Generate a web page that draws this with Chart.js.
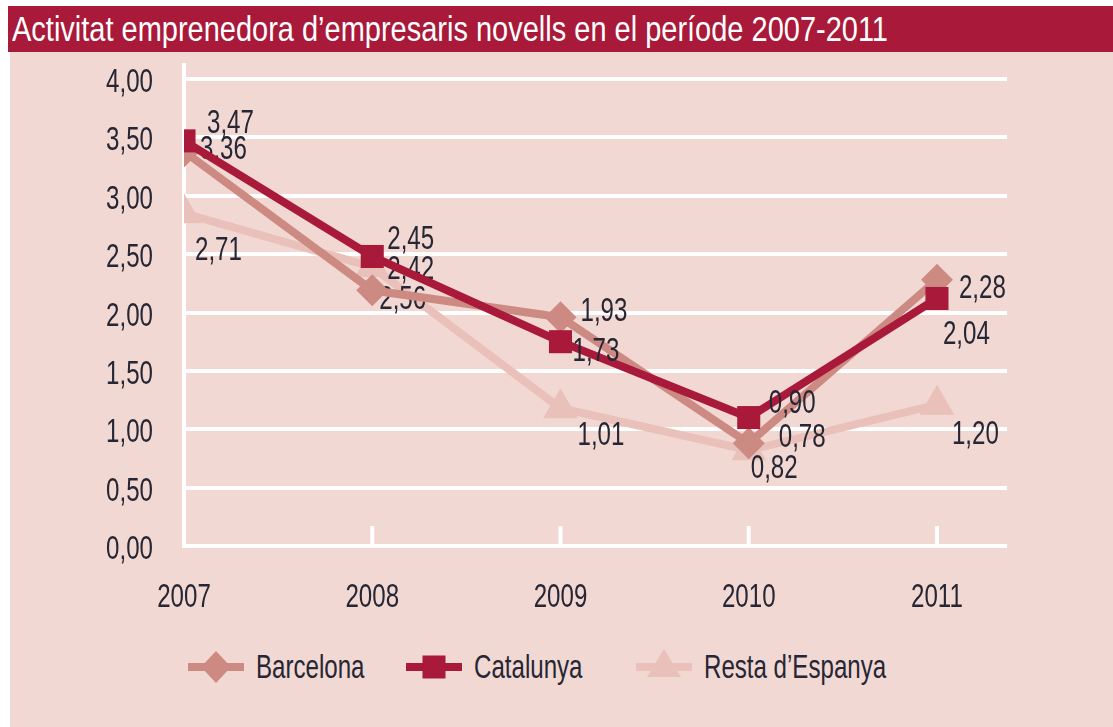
<!DOCTYPE html>
<html>
<head>
<meta charset="utf-8">
<script src="https://cdn.jsdelivr.net/npm/chart.js@4.4.1/dist/chart.umd.min.js"></script>
<style>
    html, body { margin: 0; padding: 0; background: #ffffff; }
    body { width: 1113px; height: 727px; position: relative; overflow: hidden;
           font-family: 'Liberation Sans', Arial, sans-serif; }
    #titulo { position: absolute; left: 8px; top: 6px; width: 1105px; height: 46px;
              background: #A8193A; overflow: hidden; }
    #tituloTexto { position: absolute; left: 4px; top: 0; line-height: 46px; color: #ffffff;
                   font-size: 35px; white-space: nowrap; transform-origin: 0 50%; }
    #fondo { position: absolute; left: 10px; top: 52px; width: 1103px; height: 675px; background: #F2D8D2; }
    #contenedor { position: absolute; left: 10px; top: 52px; width: 1103px; height: 590px; }
    .leyenda { position: absolute; top: 650px; height: 34px; display: flex; align-items: center;
               font-size: 33px; color: #262634; white-space: nowrap; }
    .leyenda canvas { margin-right: 10px; }
    .leyenda span { display: inline-block; transform: scaleX(0.73); transform-origin: 0 50%; }
</style>
</head>
<body>
<div id="titulo"><span id="tituloTexto">Activitat emprenedora d’empresaris novells en el període 2007-2011</span></div>
<div id="fondo"></div>
<div id="contenedor"><canvas id="graficoActividad"></canvas></div>
<div class="leyenda" style="left:186px"><canvas id="leyBarcelona" width="60" height="36"></canvas><span>Barcelona</span></div>
<div class="leyenda" style="left:404px"><canvas id="leyCatalunya" width="60" height="36"></canvas><span>Catalunya</span></div>
<div class="leyenda" style="left:634px"><canvas id="leyResta" width="60" height="36"></canvas><span>Resta d’Espanya</span></div>

<script>
// ===================================== Datos ==================
var anios = [2007, 2008, 2009, 2010, 2011];

var barcelona = [3.38, 2.19, 1.96, 0.88, 2.28];
var catalunya = [3.47, 2.48, 1.75, 1.10, 2.12];
var resta     = [2.85, 2.39, 1.18, 0.82, 1.21];

// textos de las etiquetas tal como aparecen en el gráfico
var etiquetasBarcelona = ['3,36', '2,42', '1,93', '0,78', '2,28'];
var etiquetasCatalunya = ['3,47', '2,45', '1,73', '0,90', '2,04'];
var etiquetasResta     = ['2,71', '2,56', '1,01', '0,82', '1,20'];

var yMin = 0, yMax = 4, yPaso = 0.5;


// ===================================== Estilos ==================
var colorBarcelona = '#CD8A83';
var colorCatalunya = '#A8193A';
var colorResta = '#E9C0BA';
var colorTexto = '#262634';
var fuente = "'Liberation Sans', Arial, sans-serif";
var tamFuente = 33;
var estrecho = 0.73;   // la fuente original es condensada

// desplazamiento de cada etiqueta respecto a su punto [dx, dy]
var despBarcelona = [[16, -1], [15, -20], [20, -5], [30, -5], [22, 9]];
var despCatalunya = [[23, -17], [15, -17], [12, 10], [20, -14], [6, 36]];
var despResta     = [[11, 38], [7, 33], [17, 28], [2, 19], [15, 30]];


function aPuntos(valores) {
    return anios.map((a, i) => ({ x: a, y: valores[i] }));
}

function formatoComa(v) {
    return v.toFixed(2).replace('.', ',');
}

function textoEstrecho(ctx, texto, x, y, align) {
    ctx.save();
    ctx.translate(x, y);
    ctx.scale(estrecho, 1);
    ctx.textAlign = align;
    ctx.textBaseline = 'middle';
    ctx.fillText(texto, 0, 0);
    ctx.restore();
}


// ===================================== Título ajustado ==================
(function () {
    var t = document.getElementById('tituloTexto');
    var w = t.getBoundingClientRect().width;
    t.style.transform = 'scaleX(' + (876 / w) + ')';
})();


// ===================================== Marcadores de la leyenda ==================
function dibujarForma(ctx, forma, x, y, color) {
    ctx.fillStyle = color;
    ctx.beginPath();
    if (forma === 'rombo') {
        ctx.moveTo(x, y - 16); ctx.lineTo(x + 15, y); ctx.lineTo(x, y + 16); ctx.lineTo(x - 15, y);
    } else if (forma === 'cuadrado') {
        ctx.rect(x - 11.5, y - 11.5, 23, 23);
    } else {
        ctx.moveTo(x, y - 18); ctx.lineTo(x + 17, y + 10); ctx.lineTo(x - 17, y + 10);
    }
    ctx.closePath();
    ctx.fill();
}

function dibujarLeyenda(id, forma, color) {
    var c = document.getElementById(id);
    var ctx = c.getContext('2d');
    ctx.fillStyle = color;
    ctx.fillRect(2, 14, 56, 8);
    dibujarForma(ctx, forma, 30, 18, color);
}

dibujarLeyenda('leyBarcelona', 'rombo', colorBarcelona);
dibujarLeyenda('leyCatalunya', 'cuadrado', colorCatalunya);
dibujarLeyenda('leyResta', 'triangulo', colorResta);


// ===================================== Plugin: eje y, marcas y textos de los ejes ==================
var pluginEjes = {
    id: 'ejes',
    beforeDatasetsDraw(chart) {
        const { ctx, chartArea, scales } = chart;
        ctx.save();
        ctx.strokeStyle = '#ffffff';
        ctx.lineWidth = 4;
        ctx.beginPath();
        ctx.moveTo(chartArea.left, chartArea.top - 16);
        ctx.lineTo(chartArea.left, chartArea.bottom + 2);
        anios.slice(1).forEach(a => {
            const x = scales.x.getPixelForValue(a);
            ctx.moveTo(x, chartArea.bottom);
            ctx.lineTo(x, chartArea.bottom - 20);
        });
        ctx.stroke();

        ctx.font = tamFuente + 'px ' + fuente;
        ctx.fillStyle = colorTexto;
        scales.y.ticks.forEach(t => {
            textoEstrecho(ctx, formatoComa(t.value), chartArea.left - 31, scales.y.getPixelForValue(t.value) + 4, 'right');
        });
        scales.x.ticks.forEach(t => {
            textoEstrecho(ctx, String(t.value), scales.x.getPixelForValue(t.value), chartArea.bottom + 52, 'center');
        });
        ctx.restore();
    }
};

// ===================================== Plugin: etiquetas de valores ==================
var pluginEtiquetas = {
    id: 'etiquetas',
    afterDatasetDraw(chart, args) {
        const ds = chart.data.datasets[args.index];
        const { ctx } = chart;
        ctx.save();
        ctx.font = tamFuente + 'px ' + fuente;
        ctx.fillStyle = colorTexto;
        args.meta.data.forEach((p, i) => {
            const d = ds.desplazamientos[i];
            textoEstrecho(ctx, ds.etiquetas[i], p.x + d[0], p.y + d[1], 'left');
        });
        ctx.restore();
    }
};


// ===================================== Gráfico ==================
var chartActividad = new Chart(document.getElementById('graficoActividad'), {
    type: 'line',
    data: {
        datasets: [
            {
                label: 'Barcelona',
                data: aPuntos(barcelona),
                etiquetas: etiquetasBarcelona,
                desplazamientos: despBarcelona,
                borderColor: colorBarcelona,
                backgroundColor: colorBarcelona,
                borderWidth: 8,
                pointStyle: 'rectRot',
                pointRadius: 16,
                pointBorderWidth: 0,
                order: 1
            },
            {
                label: 'Catalunya',
                data: aPuntos(catalunya),
                etiquetas: etiquetasCatalunya,
                desplazamientos: despCatalunya,
                borderColor: colorCatalunya,
                backgroundColor: colorCatalunya,
                borderWidth: 8,
                pointStyle: 'rect',
                pointRadius: 16.3,
                pointBorderWidth: 0,
                order: 0
            },
            {
                label: 'Resta d’Espanya',
                data: aPuntos(resta),
                etiquetas: etiquetasResta,
                desplazamientos: despResta,
                borderColor: colorResta,
                backgroundColor: colorResta,
                borderWidth: 8,
                pointStyle: 'triangle',
                pointRadius: 20,
                pointBorderWidth: 0,
                order: 2
            }
        ]
    },
    options: {
        responsive: true,
        maintainAspectRatio: false,
        animation: false,
        layout: { padding: { left: 0, right: 106, top: 27, bottom: 0 } },
        plugins: {
            legend: { display: false },
            tooltip: { enabled: false }
        },
        scales: {
            x: {
                type: 'linear',
                min: anios[0],
                max: 2011.372,
                afterBuildTicks: s => { s.ticks = anios.map(a => ({ value: a })); },
                afterFit: s => { s.height = 96; },
                grid: { display: false },
                border: { display: false },
                ticks: { display: false }
            },
            y: {
                min: yMin,
                max: yMax,
                afterFit: s => { s.width = 174; },
                grid: { color: '#ffffff', lineWidth: 4, drawTicks: false },
                border: { display: false },
                ticks: { stepSize: yPaso, display: false }
            }
        }
    },
    plugins: [pluginEjes, pluginEtiquetas]
});
</script>
</body>
</html>
